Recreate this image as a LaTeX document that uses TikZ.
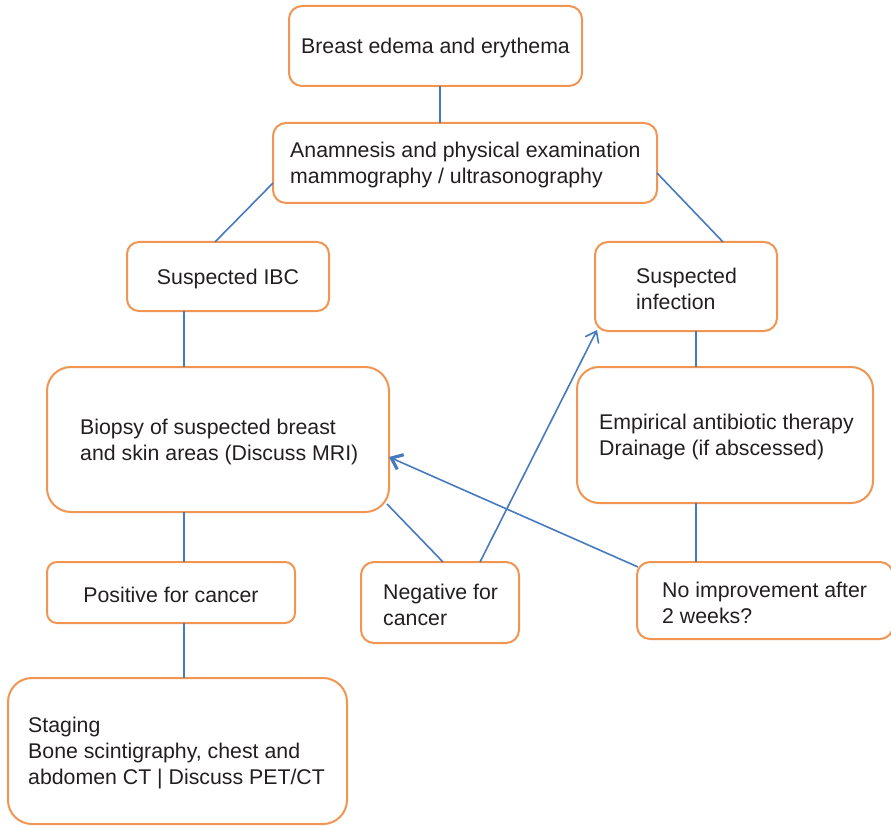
\documentclass[tikz,border=0pt]{standalone}
\usepackage{fontspec}
\setmainfont{Liberation Sans}
\usetikzlibrary{arrows.meta}
\definecolor{boxline}{RGB}{240,150,82}
\definecolor{linkline}{RGB}{70,122,190}
\definecolor{ink}{RGB}{35,31,32}
\begin{document}
\begin{tikzpicture}[x=1pt,y=-1pt,
  flowbox/.style={draw=boxline, line width=2pt, fill=white, inner sep=0pt,
    outer sep=0pt, anchor=north west},
  label/.style={text=ink, inner sep=0pt, align=left, yshift=-2pt,
    font=\fontsize{21.3}{26}\selectfont},
  link/.style={draw=linkline, line width=1.6pt},
  thinhead/.style={-{Straight Barb[length=10pt,width=15pt,line width=1.6pt]}},
  boldhead/.style={-{Straight Barb[length=10pt,width=16pt,line width=3.2pt]}}]
\useasboundingbox (0,0) rectangle (891,826);

% boxes
\node[flowbox, minimum width=293pt, minimum height=80pt, rounded corners=13pt] (top) at (289,6) {};
\node[flowbox, minimum width=384pt, minimum height=80pt, rounded corners=13pt] (anam) at (273,123) {};
\node[flowbox, minimum width=202pt, minimum height=69pt, rounded corners=12pt] (ibc) at (127,242) {};
\node[flowbox, minimum width=182pt, minimum height=89pt, rounded corners=13pt] (inf) at (595,242) {};
\node[flowbox, minimum width=342pt, minimum height=145pt, rounded corners=24pt] (biopsy) at (47,367) {};
\node[flowbox, minimum width=296pt, minimum height=136pt, rounded corners=22pt] (emp) at (577,367) {};
\node[flowbox, minimum width=248pt, minimum height=61pt, rounded corners=10pt] (pos) at (47,562) {};
\node[flowbox, minimum width=158pt, minimum height=81pt, rounded corners=13pt] (neg) at (361,562) {};
\node[flowbox, minimum width=256pt, minimum height=77pt, rounded corners=13pt] (noimp) at (637,562) {};
\node[flowbox, minimum width=339pt, minimum height=146pt, rounded corners=24pt] (staging) at (8,678) {};

% box texts
\node[label] (ttop) at (top.center) {Breast edema and erythema};
\node[label, anchor=west] (tanam) at ([xshift=17pt]anam.west) {Anamnesis and physical examination\\mammography / ultrasonography};
\node[label] (tibc) at (ibc.center) {Suspected IBC};
\node[label, anchor=west] (tinf) at ([xshift=41pt]inf.west) {Suspected\\infection};
\node[label, anchor=west] (tbiopsy) at ([xshift=33pt]biopsy.west) {Biopsy of suspected breast\\and skin areas (Discuss MRI)};
\node[label, anchor=west] (temp) at ([xshift=22pt]emp.west) {Empirical antibiotic therapy\\Drainage (if abscessed)};
\node[label] (tpos) at (pos.center) {Positive for cancer};
\node[label, anchor=west] (tneg) at ([xshift=22pt]neg.west) {Negative for\\cancer};
\node[label, anchor=west] (tnoimp) at ([xshift=25pt]noimp.west) {No improvement after\\2 weeks?};
\node[label, anchor=west] (tstaging) at ([xshift=20pt]staging.west) {Staging\\Bone scintigraphy, chest and\\abdomen CT | Discuss PET/CT};

% connectors
\draw[link] ([xshift=4.5pt]top.south) -- ([xshift=4.5pt]top.south |- anam.north);
\draw[link] ([yshift=-20pt]anam.west) -- ([xshift=-13pt]ibc.north);
\draw[link] ([yshift=-10pt]anam.east) -- ([xshift=37pt]inf.north);
\draw[link] ([xshift=-44pt]ibc.south) -- ([xshift=-44pt]ibc.south |- biopsy.north);
\draw[link] ([xshift=10pt]inf.south) -- ([xshift=10pt]inf.south |- emp.north);
\draw[link] ([xshift=-34pt]biopsy.south) -- ([xshift=-34pt]biopsy.south |- pos.north);
\draw[link] ([xshift=13pt]pos.south) -- ([xshift=13pt]pos.south |- staging.north);
\draw[link] ([xshift=-29pt]emp.south) -- ([xshift=-29pt]emp.south |- noimp.north);
\draw[link] ([shift={(-2pt,8pt)}]biopsy.south east) -- ([xshift=3pt]neg.north);
\draw[link, thinhead] ([xshift=40pt]neg.north) -- ([shift={(2pt,1pt)}]inf.south west);
\draw[link, boldhead] ([shift={(1pt,-5pt)}]noimp.north west) -- ([yshift=-17.5pt]biopsy.east);
\end{tikzpicture}
\end{document}
